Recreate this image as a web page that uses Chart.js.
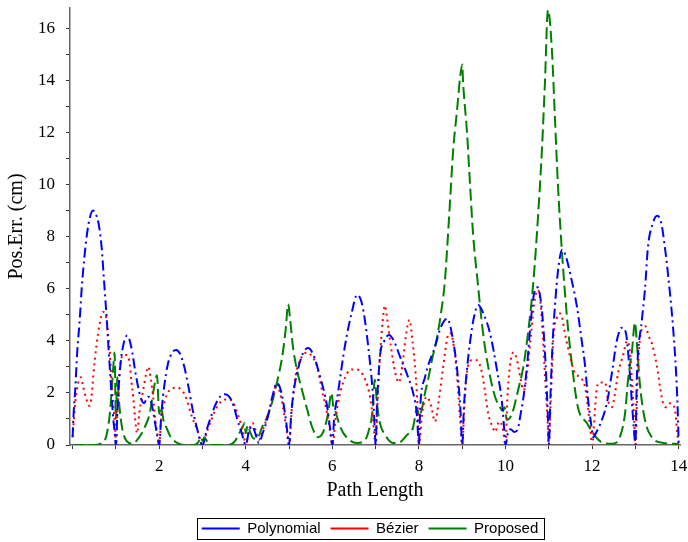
<!DOCTYPE html>
<html>
<head>
<meta charset="utf-8">
<script src="https://cdn.jsdelivr.net/npm/chart.js@4.4.0/dist/chart.umd.min.js"></script>
<style>
html,body{margin:0;padding:0;background:#fff;}
#wrap{width:688px;height:542px;}
</style>
</head>
<body>
<div id="wrap"><canvas id="c" width="688" height="542"></canvas></div>
<script>
// ---- Data ----
const seriesNames = ['Polynomial', 'Bézier', 'Proposed'];

const polyX = [0,0.02,0.06,0.11,0.16,0.21,0.29,0.37,0.47,0.55,0.6,0.67,0.73,0.79,0.83,0.87,0.93,0.97,1.0,
 1.04,1.1,1.18,1.26,1.35,1.47,1.56,1.65,1.74,1.8,1.88,1.95,2.0,
 2.05,2.12,2.2,2.3,2.39,2.48,2.58,2.68,2.78,2.88,2.95,3.0,
 3.1,3.2,3.3,3.42,3.52,3.62,3.72,3.8,3.9,4.0,
 4.07,4.15,4.22,4.3,4.4,4.51,4.62,4.72,4.8,4.86,4.94,5.0,
 5.05,5.12,5.22,5.33,5.44,5.55,5.72,5.88,5.95,6.0,
 6.04,6.13,6.29,6.45,6.57,6.7,6.87,6.94,6.98,7.0,
 7.03,7.1,7.2,7.31,7.42,7.56,7.75,7.88,7.95,8.0,
 8.03,8.14,8.37,8.5,8.65,8.79,8.9,8.96,9.0,
 9.04,9.11,9.18,9.27,9.37,9.5,9.64,9.8,9.92,9.97,10.0,
 10.06,10.12,10.2,10.28,10.35,10.42,10.5,10.58,10.67,10.74,10.8,10.87,10.94,10.98,11.0,
 11.04,11.09,11.14,11.22,11.31,11.4,11.49,11.65,11.76,11.84,11.9,11.97,12.03,12.1,12.18,12.34,12.46,12.57,12.69,12.78,12.85,12.92,12.97,13.0,
 13.03,13.15,13.22,13.29,13.4,13.5,13.6,13.68,13.75,13.87,13.94,13.98,14.0];
const polyY = [0.3,1.1,2.1,3.65,4.7,6.0,7.5,8.5,9.0,8.8,8.5,7.6,6.2,4.8,3.7,2.7,1.2,0.5,0,
 1.5,3.0,3.9,4.2,3.8,2.6,1.9,1.6,1.85,1.75,1.1,0.4,0,
 1.2,2.3,3.1,3.55,3.65,3.5,3.0,2.2,1.3,0.6,0.15,0,
 0.6,1.1,1.55,1.88,1.95,1.85,1.5,1.0,0.5,0,
 0.5,0.72,0.45,0.08,0.5,1.07,1.9,2.38,2.15,1.7,0.8,0,
 1.2,2.2,3.0,3.55,3.72,3.5,2.6,1.47,0.6,0,
 1.0,2.0,3.8,5.1,5.76,5.3,3.15,1.84,0.6,0,
 1.5,3.4,4.0,4.22,4.0,3.4,2.6,1.9,1.2,0,
 1.45,2.6,3.77,4.5,4.85,4.0,2.6,1.3,0,
 1.5,2.9,3.95,4.9,5.37,5.0,4.3,2.9,1.6,0.6,0,
 0.5,0.6,0.5,0.6,1.2,1.9,3.1,4.7,5.9,6.05,5.7,4.6,2.6,1.0,0,
 2.0,4.0,5.3,6.8,7.5,7.2,6.6,5.3,4.0,3.0,1.85,0.9,0.3,0.5,0.77,1.6,2.8,4.0,4.5,4.3,3.2,1.6,0.5,0,
 2.4,4.8,5.95,7.6,8.5,8.8,8.5,7.6,6.6,4.5,2.76,1.2,0];

const bezX = [0,0.06,0.13,0.19,0.25,0.31,0.39,0.44,0.48,0.55,0.62,0.7,0.76,0.81,0.86,0.9,0.95,0.98,1.0,
 1.04,1.09,1.17,1.26,1.32,1.36,1.4,1.44,1.49,1.55,1.63,1.7,1.75,1.81,1.86,1.91,1.96,2.0,
 2.04,2.13,2.27,2.43,2.52,2.6,2.76,2.88,2.96,3.0,
 3.1,3.2,3.3,3.45,3.56,3.68,3.82,3.94,4.0,
 4.07,4.16,4.22,4.3,4.4,4.5,4.63,4.72,4.79,4.86,4.94,5.0,
 5.06,5.12,5.18,5.3,5.42,5.53,5.65,5.76,5.88,5.95,6.0,
 6.08,6.18,6.34,6.45,6.57,6.76,6.87,6.94,7.0,
 7.04,7.08,7.12,7.16,7.21,7.27,7.35,7.45,7.54,7.62,7.7,7.78,7.85,7.92,7.97,8.0,
 8.08,8.18,8.28,8.37,8.47,8.56,8.66,8.72,8.83,8.9,8.95,9.0,
 9.06,9.13,9.23,9.34,9.46,9.53,9.6,9.7,9.76,9.85,9.93,10.0,
 10.04,10.1,10.18,10.26,10.34,10.42,10.5,10.58,10.66,10.74,10.8,10.86,10.92,10.97,11.0,
 11.04,11.07,11.1,11.19,11.26,11.3,11.37,11.49,11.6,11.72,11.84,11.9,11.96,12.0,
 12.07,12.11,12.18,12.3,12.37,12.46,12.53,12.6,12.71,12.81,12.87,12.93,12.97,13.0,
 13.05,13.1,13.18,13.24,13.3,13.38,13.5,13.57,13.64,13.72,13.8,13.91,13.97,14.0];
const bezY = [0.3,1.6,2.4,2.6,2.2,1.8,1.5,1.9,2.7,3.8,4.6,5.1,5.0,4.4,3.5,2.4,1.3,0.7,0,
 1.5,2.9,3.45,3.45,3.1,2.4,1.85,1.07,0.45,1.35,2.1,2.75,3.0,2.5,1.85,0.96,0.4,0,
 0.9,1.7,2.15,2.2,2.1,1.9,1.07,0.57,0.15,0,
 0.5,0.95,1.35,1.7,1.75,1.7,1.15,0.5,0,
 0.55,0.84,0.6,0.2,0.6,1.1,1.85,2.35,2.0,1.46,0.6,0,
 1.3,2.3,2.9,3.4,3.55,3.4,3.0,2.1,1.2,0.5,0,
 1.1,2.0,2.75,2.9,2.9,2.5,1.85,0.96,0,
 1.5,2.9,3.9,4.7,5.35,4.8,3.8,2.8,2.4,3.1,4.2,4.8,4.0,2.8,1.4,0,
 1.3,1.85,1.5,0.9,1.85,3.0,4.15,4.3,3.5,2.2,1.0,0,
 1.85,3.0,3.25,3.25,2.75,2.0,1.2,0.7,0.5,0.9,0.7,0,
 1.7,3.0,3.55,3.3,2.6,2.1,2.8,4.1,5.4,5.95,5.6,4.2,2.4,1.0,0,
 1.5,2.76,4.0,4.9,5.05,4.95,4.3,3.4,2.76,2.6,2.2,1.46,0.6,0,
 1.46,2.2,2.4,2.4,1.7,1.46,2.0,2.76,3.4,4.0,3.6,2.2,1.0,0,
 2.5,4.0,4.5,4.55,4.2,3.9,3.0,2.2,1.6,1.45,1.6,1.4,0.4,0];

const propX = [0,0.5,0.65,0.75,0.8,0.86,0.9,0.94,0.97,1.0,1.03,1.08,1.15,1.25,1.4,1.47,1.58,1.67,1.78,1.86,1.95,2.0,2.04,2.1,2.16,2.25,2.32,2.45,2.6,
 2.8,2.9,2.97,3.0,3.04,3.12,3.25,3.6,3.75,3.85,3.93,3.97,4.0,4.04,4.1,4.18,4.26,4.38,4.49,4.61,4.72,4.84,4.92,4.98,
 5.02,5.09,5.18,5.3,5.42,5.53,5.67,5.76,5.83,5.9,5.98,6.02,6.06,6.18,6.34,6.57,6.76,6.85,6.92,6.98,7.03,7.1,7.22,7.4,7.55,7.72,7.86,7.96,8.0,
 8.07,8.14,8.21,8.3,8.42,8.53,8.6,8.65,8.72,8.79,8.88,8.95,9.0,9.02,9.11,9.18,9.25,9.36,9.48,9.6,9.76,9.87,9.94,9.98,10.03,
 10.15,10.29,10.41,10.52,10.64,10.75,10.84,10.91,10.98,11.07,11.14,11.21,11.3,11.42,11.54,11.67,11.88,12.02,12.23,12.48,
 12.64,12.76,12.83,12.92,12.99,13.03,13.1,13.22,13.38,13.64,14.0];
const propY = [0,0,0.05,0.2,0.5,1.2,2.0,3.0,3.55,1.0,2.6,1.5,0.6,0.15,0.05,0.15,0.4,0.7,1.2,2.0,2.68,1.2,1.45,0.95,0.7,0.35,0.2,0.05,0,
 0,0.1,0.3,0.15,0.3,0.1,0,0,0.15,0.45,0.7,0.84,0.45,0.75,0.5,0.25,0.25,0.7,1.07,1.65,2.4,3.37,4.4,5.4,
 4.9,3.77,2.9,2.1,1.35,0.7,0.3,0.4,0.7,1.2,2.0,1.5,1.35,0.7,0.27,0.08,0.2,0.6,1.2,2.5,1.6,0.84,0.38,0.08,0.1,0.38,0.65,1.4,1.1,
 1.4,2.0,2.5,3.26,4.15,5.3,6.3,7.5,9.4,11.3,12.85,14.1,14.6,13.9,12.0,10.0,8.1,6.2,4.3,3.0,1.84,1.46,1.3,1.45,0.96,
 1.2,2.1,3.0,4.3,6.2,8.75,11.3,13.9,16.7,15.2,12.6,10.0,7.5,4.9,3.0,1.46,0.84,0.45,0.1,0.05,
 0.3,1.2,2.5,3.6,4.7,4.0,2.4,0.96,0.3,0.08,0.04];

// Tick values and tick labels
const xTickValues = [0,1,2,3,4,5,6,7,8,9,10,11,12,13,14];
const xTickLabels = ['','','2','','4','','6','','8','','10','','12','','14'];
const yTickValues = [0,1,2,3,4,5,6,7,8,9,10,11,12,13,14,15,16];
const yTickLabels = ['0','','2','','4','','6','','8','','10','','12','','14','','16'];

const toPoints = (xs, ys) => xs.map((x, i) => ({x: x, y: ys[i]}));

const serif = "'Liberation Serif', 'Times New Roman', serif";

const legendFrame = {
  id: 'legendFrame',
  afterLayout(chart) {
    const lg = chart.legend;
    if (!lg) return;
    lg.top += 4; lg.bottom += 4;
    lg.left += 30; lg.right += 30;
  },
  afterDraw(chart) {
    const lg = chart.legend;
    if (!lg || !lg.legendHitBoxes || !lg.legendHitBoxes.length) return;
    const hb = lg.legendHitBoxes;
    const first = hb[0], last = hb[hb.length - 1];
    const left = first.left - 5, right = last.left + last.width + 5;
    const top = first.top - 3, bottom = first.top + first.height + 3;
    const ctx = chart.ctx;
    ctx.save();
    ctx.strokeStyle = '#000';
    ctx.lineWidth = 1;
    ctx.setLineDash([]);
    ctx.strokeRect(Math.round(left) + 0.5, Math.round(top) + 0.5, Math.round(right - left), Math.round(bottom - top));
    ctx.restore();
  }
};

new Chart(document.getElementById('c'), {
  type: 'line',
  data: {
    datasets: [
      {label: seriesNames[0], data: toPoints(polyX, polyY), borderColor: '#0000ff', backgroundColor: '#0000ff',
       borderWidth: 2, borderDash: [10, 4, 2, 4], pointRadius: 0, cubicInterpolationMode: 'monotone', fill: false},
      {label: seriesNames[1], data: toPoints(bezX, bezY), borderColor: '#ff0000', backgroundColor: '#ff0000',
       borderWidth: 2, borderDash: [2, 4], pointRadius: 0, cubicInterpolationMode: 'monotone', fill: false},
      {label: seriesNames[2], data: toPoints(propX, propY), borderColor: '#008000', backgroundColor: '#008000',
       borderWidth: 2, borderDash: [12, 5], pointRadius: 0, cubicInterpolationMode: 'monotone', fill: false}
    ]
  },
  options: {
    responsive: false,
    animation: false,
    layout: {padding: {top: 8, right: 8, left: 0, bottom: 0}},
    plugins: {
      legend: {
        position: 'bottom',
        labels: {
          usePointStyle: true,
          pointStyle: 'line',
          pointStyleWidth: 38,
          boxHeight: 15,
          padding: 10,
          color: '#000',
          font: {family: "'Liberation Sans', Arial, sans-serif", size: 15}
        }
      },
      tooltip: {enabled: false}
    },
    scales: {
      x: {
        type: 'linear',
        min: -0.06,
        max: 14.03,
        afterBuildTicks: (s) => { s.ticks = xTickValues.map(v => ({value: v})); },
        afterFit: (s) => { s.height = 62; s.paddingLeft = 0; s.paddingRight = 0; },
        border: {display: true, color: '#666', width: 1.5},
        grid: {display: true, drawOnChartArea: false, drawTicks: true, tickLength: 4, tickColor: '#333'},
        ticks: {
          autoSkip: false, maxRotation: 0, padding: 7, color: '#000',
          font: {family: serif, size: 17},
          callback: (v, i) => xTickLabels[i]
        },
        title: {display: true, text: 'Path Length', color: '#000', font: {family: serif, size: 20}, padding: {top: 0, bottom: 4}}
      },
      y: {
        type: 'linear',
        min: 0,
        max: 16.77,
        afterBuildTicks: (s) => { s.ticks = yTickValues.map(v => ({value: v})); },
        afterFit: (s) => { s.width = 70; s.paddingTop = 0; s.paddingBottom = 0; },
        border: {display: true, color: '#666', width: 1.5},
        grid: {display: true, drawOnChartArea: false, drawTicks: true, tickLength: 4, tickColor: '#333'},
        ticks: {
          autoSkip: false, padding: 11, color: '#000',
          font: {family: serif, size: 17},
          callback: (v, i) => yTickLabels[i]
        },
        title: {display: true, text: 'Pos.Err. (cm)', color: '#000', font: {family: serif, size: 20}, padding: {top: 5, bottom: 0}}
      }
    }
  },
  plugins: [legendFrame]
});
</script>
</body>
</html>
